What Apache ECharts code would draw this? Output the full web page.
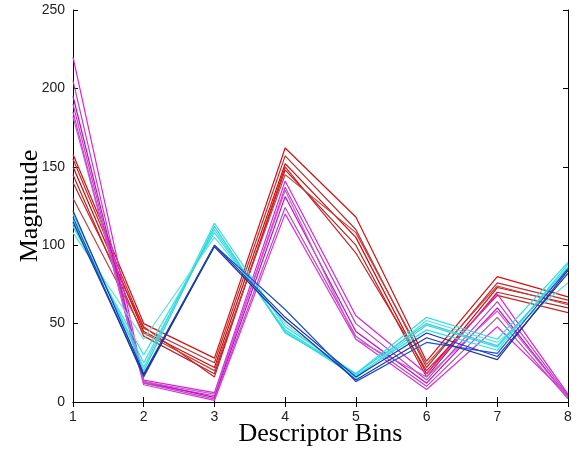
<!DOCTYPE html>
<html>
<head>
<meta charset="utf-8">
<script src="https://cdn.jsdelivr.net/npm/echarts@6/dist/echarts.min.js"></script>
<style>
  html, body { margin: 0; padding: 0; background: #fff; }
  #chart { width: 580px; height: 451px; }
</style>
</head>
<body>
<div id="chart"></div>
<script>
// descriptor bins
var bins = ['1', '2', '3', '4', '5', '6', '7', '8']

// red group
var red1 = [158, 50, 28, 162, 118, 26, 80, 67]
var red2 = [155, 47, 25, 157, 110, 22, 76, 65]
var red3 = [150, 45, 22, 152, 105, 18, 73, 63]
var red4 = [145, 42, 18, 148, 100, 16, 70, 60]
var red5 = [140, 48, 16, 150, 95, 20, 68, 57]
var red6 = [130, 44, 20, 145, 108, 24, 74, 62]

// magenta group
var mag1 = [220, 14, 6, 141, 55, 18, 69, 5]
var mag2 = [205, 12, 4, 137, 50, 14, 64, 4]
var mag3 = [195, 13, 3, 131, 45, 12, 60, 3]
var mag4 = [190, 12, 2, 124, 42, 10, 54, 2]
var mag5 = [185, 11, 1, 120, 40, 8, 48, 4]
var mag6 = [182, 13, 5, 135, 40, 16, 58, 3]

// cyan group
var cyan1 = [120, 22, 114, 48, 18, 54, 40, 89]
var cyan2 = [116, 25, 110, 45, 16, 49, 35, 86]
var cyan3 = [112, 30, 108, 46, 17, 46, 33, 88]
var cyan4 = [108, 40, 105, 50, 15, 52, 38, 76]
var cyan5 = [114, 20, 112, 44, 18, 50, 36, 84]

// blue group
var blue1 = [122, 18, 100, 54, 16, 44, 29, 82]
var blue2 = [118, 16, 100, 59, 13, 38, 31, 85]
var blue3 = [115, 17, 99, 52, 14, 41, 27, 84]

var yTicks = [0, 50, 100, 150, 200, 250]

var groups = [
  { lines: [red1, red2, red3, red4, red5, red6],
    colors: ['#d81010', '#b83030', '#e00000', '#a82828', '#d02020', '#c04040'] },
  { lines: [mag1, mag2, mag3, mag4, mag5, mag6],
    colors: ['#e020e0', '#c040c0', '#d000d0', '#b050b0', '#e030e0', '#c060c8'] },
  { lines: [cyan1, cyan2, cyan3, cyan4, cyan5],
    colors: ['#30e0e0', '#40d8e0', '#20e8e8', '#60e0d8', '#30d0e0'] },
  { lines: [blue1, blue2, blue3],
    colors: ['#1438c0', '#2050d0', '#203890'] }
]

var series = []
groups.forEach(function (g) {
  g.lines.forEach(function (d, i) {
    series.push({
      type: 'line',
      data: d.map(function (v, k) { return [bins[k], v] }),
      symbol: 'none',
      animation: false,
      lineStyle: { color: g.colors[i], width: 1.2 }
    })
  })
})

var axisText = { color: '#222', fontFamily: 'Liberation Sans', fontSize: 14 }

var chart = echarts.init(document.getElementById('chart'))
chart.setOption({
  backgroundColor: '#fff',
  grid: { left: 73, right: 12, top: 10, bottom: 49, outerBoundsMode: 'none', containLabel: false },
  xAxis: [{
    type: 'category',
    data: bins,
    boundaryGap: false,
    name: 'Descriptor Bins',
    nameLocation: 'middle',
    nameGap: 19,
    nameMoveOverlap: false,
    nameTextStyle: { fontFamily: 'Liberation Serif', fontSize: 26, color: '#000' },
    axisLine: { lineStyle: { color: '#000', width: 1 } },
    axisTick: { inside: true, length: 5, alignWithLabel: true, lineStyle: { color: '#000' } },
    axisLabel: axisText,
    splitLine: { show: false }
  }, {
    type: 'category',
    data: bins,
    position: 'top',
    boundaryGap: false,
    axisLine: { lineStyle: { color: '#000', width: 1 } },
    axisTick: { inside: true, length: 5, lineStyle: { color: '#000' } },
    axisLabel: { show: false }
  }],
  yAxis: [{
    type: 'value',
    min: yTicks[0],
    max: yTicks[yTicks.length - 1],
    interval: 50,
    name: 'Magnitude',
    nameLocation: 'middle',
    nameGap: 30,
    nameMoveOverlap: false,
    nameTextStyle: { fontFamily: 'Liberation Serif', fontSize: 26, color: '#000' },
    axisLine: { show: true, lineStyle: { color: '#000', width: 1 } },
    axisTick: { show: true, inside: true, length: 5, lineStyle: { color: '#000' } },
    axisLabel: axisText,
    splitLine: { show: false }
  }, {
    type: 'value',
    min: yTicks[0],
    max: yTicks[yTicks.length - 1],
    interval: 50,
    position: 'right',
    axisLine: { show: true, lineStyle: { color: '#000', width: 1 } },
    axisTick: { show: true, inside: true, length: 5, lineStyle: { color: '#000' } },
    axisLabel: { show: false },
    splitLine: { show: false }
  }],
  series: series
})
</script>
</body>
</html>
